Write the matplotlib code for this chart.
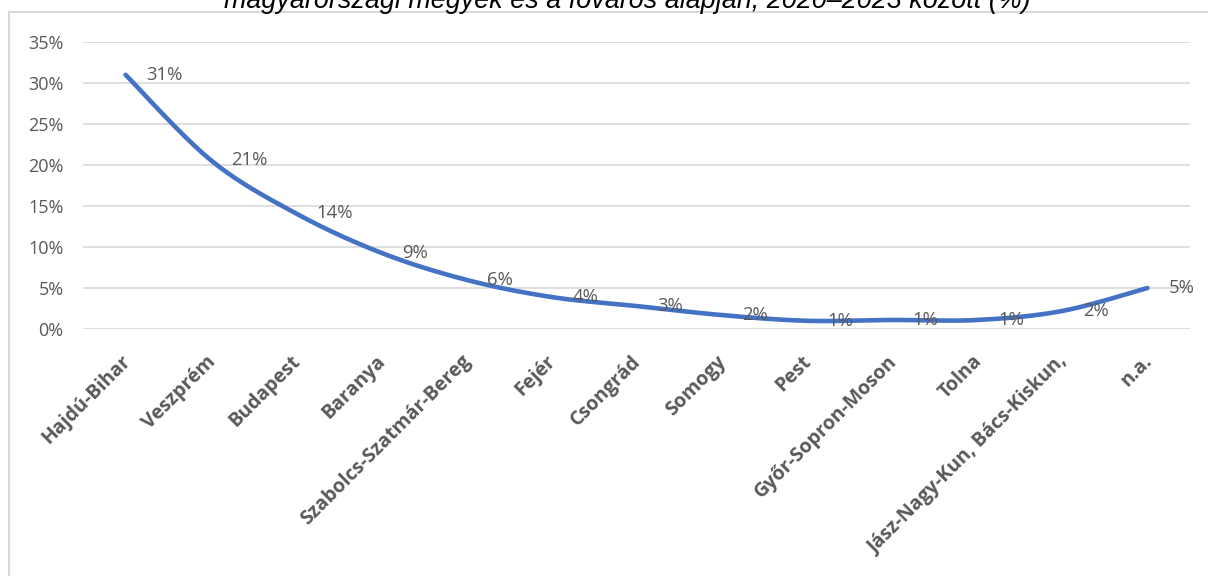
import numpy as np
import matplotlib
matplotlib.use("Agg")
import matplotlib.pyplot as plt
from matplotlib.lines import Line2D
from matplotlib.ticker import FuncFormatter

categories = ["Hajdú-Bihar", "Veszprém", "Budapest", "Baranya", "Szabolcs-Szatmár-Bereg",
              "Fejér", "Csongrád", "Somogy", "Pest", "Győr-Sopron-Moson", "Tolna",
              "Jász-Nagy-Kun, Bács-Kiskun,", "n.a."]
values = [0.31, 0.206, 0.141, 0.093, 0.060, 0.039, 0.028, 0.017, 0.010, 0.011, 0.011, 0.022, 0.050]
value_labels = ["31%", "21%", "14%", "9%", "6%", "4%", "3%", "2%", "1%", "1%", "1%", "2%", "5%"]
yticks = [0, 0.05, 0.10, 0.15, 0.20, 0.25, 0.30, 0.35]
title = "magyarországi megyék és a főváros alapján, 2020–2023 között (%)"

GRAY = "#595959"
GRID = "#D9D9D9"
BLUE = "#4472C4"
FONT = ["Open Sans", "DejaVu Sans"]


def smooth(xs, ys, n=30, tension=0.5):
    xs = np.asarray(xs, float)
    ys = np.asarray(ys, float)
    px = np.concatenate([[xs[0]], xs, [xs[-1]]])
    py = np.concatenate([[ys[0]], ys, [ys[-1]]])
    ox, oy = [], []
    for i in range(1, len(px) - 2):
        t = np.linspace(0, 1, n)
        p0x, p1x, p2x, p3x = px[i - 1], px[i], px[i + 1], px[i + 2]
        p0y, p1y, p2y, p3y = py[i - 1], py[i], py[i + 1], py[i + 2]
        m1x, m1y = tension * (p2x - p0x), tension * (p2y - p0y)
        m2x, m2y = tension * (p3x - p1x), tension * (p3y - p1y)
        h00 = 2 * t**3 - 3 * t**2 + 1
        h10 = t**3 - 2 * t**2 + t
        h01 = -2 * t**3 + 3 * t**2
        h11 = t**3 - t**2
        ox.append(h00 * p1x + h10 * m1x + h01 * p2x + h11 * m2x)
        oy.append(h00 * p1y + h10 * m1y + h01 * p2y + h11 * m2y)
    return np.concatenate(ox), np.concatenate(oy)


fig = plt.figure(figsize=(12.08, 5.76), dpi=100)
ax = fig.add_axes([83 / 1208, 1 - 329 / 576, (1190 - 83) / 1208, (329 - 42) / 576])

x = np.arange(len(categories))
sx, sy = smooth(x, values)
ax.plot(sx, sy, color=BLUE, lw=3.3, solid_capstyle="round", zorder=3)

for xi, v, lab in zip(x, values, value_labels):
    ax.annotate(lab, (xi, v), xytext=(15, 0), textcoords="offset points",
                ha="left", va="center", fontsize=13.3, color=GRAY,
                family=FONT, zorder=4)

ax.set_xlim(-0.5, len(categories) - 0.5)
ax.set_ylim(0, 0.35)
ax.set_yticks(yticks)
ax.yaxis.set_major_formatter(FuncFormatter(lambda v, p: f"{v*100:.0f}%"))
ax.grid(axis="y", color=GRID, lw=1.2, zorder=0)
ax.set_axisbelow(True)
for s in ax.spines.values():
    s.set_visible(False)
ax.tick_params(axis="y", length=0, pad=14, labelsize=13, labelcolor=GRAY)
ax.tick_params(axis="x", length=0, pad=20)
ax.set_xticks(x)
ax.set_xticklabels(categories, rotation=45, ha="right", va="center_baseline",
                   rotation_mode="anchor", fontsize=14, fontweight="bold", color=GRAY,
                   family=FONT)
for lab in ax.get_yticklabels():
    lab.set_family(FONT)

# chart border (left and top)
fig.add_artist(Line2D([9 / 1208, 9 / 1208], [0, 1 - 12 / 576], color=GRID, lw=1.5))
fig.add_artist(Line2D([9 / 1208, 1], [1 - 12 / 576, 1 - 12 / 576], color=GRID, lw=1.5))

fig.text(627 / 1208, 1 - 7.5 / 576, title, ha="center", va="baseline", fontsize=19.4,
         style="italic", color="black", family=["Liberation Sans Narrow", "Liberation Sans", "DejaVu Sans"])

fig.savefig("out.png", dpi=100)
